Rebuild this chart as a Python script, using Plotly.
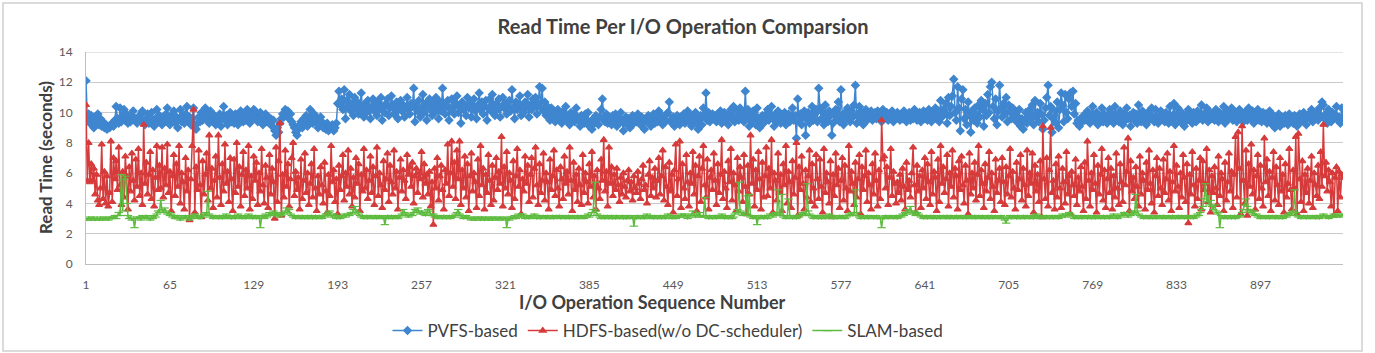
import plotly.graph_objects as go

# ---------------- data ----------------
TITLE = "Read Time Per I/O Operation Comparsion"
X_TITLE = "I/O Operation Sequence Number"
Y_TITLE = "Read Time (seconds)"
SERIES_NAMES = ["PVFS-based", "HDFS-based(w/o DC-scheduler)", "SLAM-based"]
X_TICKS = [1, 65, 129, 193, 257, 321, 385, 449, 513, 577, 641, 705, 769, 833, 897]
N_OPS = 960

pvfs = [
    12.1, 9.6, 9.9, 9.3, 9.8, 9.5, 9.0, 9.7, 9.4, 9.9, 9.2, 9.6, 9.1, 9.4, 9.0, 9.2, 8.9, 9.1, 9.0, 9.2,
    9.3, 9.1, 9.5, 10.4, 9.6, 9.3, 10.3, 9.4, 9.8, 10.2, 9.5, 9.9, 9.3, 9.7, 9.4, 9.8, 10.1, 9.5, 9.6, 9.3,
    9.7, 9.5, 9.9, 10.1, 9.4, 9.2, 9.6, 9.9, 9.3, 9.7, 10.0, 9.5, 9.1, 9.6, 10.2, 9.4, 9.8, 9.5, 9.2, 9.7,
    9.4, 9.9, 10.3, 9.6, 9.2, 9.8, 9.5, 10.1, 9.3, 9.7, 9.0, 9.6, 10.2, 9.4, 9.8, 9.3, 9.9, 10.4, 9.5, 9.7,
    9.2, 9.6, 10.3, 9.0, 8.9, 9.3, 9.7, 9.4, 10.0, 9.5, 9.8, 10.3, 9.6, 9.9, 9.3, 10.1, 9.7, 9.4, 9.8, 9.2,
    9.6, 9.3, 9.9, 9.1, 9.7, 10.4, 9.5, 9.8, 9.2, 9.6, 10.0, 9.4, 9.7, 9.3, 9.9, 9.5, 9.2, 9.8, 10.1, 9.6,
    9.4, 9.8, 9.5, 10.2, 9.7, 9.3, 9.9, 9.6, 10.2, 10.1, 9.8, 9.4, 9.7, 10.0, 9.5, 9.2, 9.6, 9.9, 9.4, 9.7,
    9.3, 9.6, 9.1, 9.5, 8.8, 8.5, 9.0, 8.7, 9.3, 9.6, 9.9, 9.7, 10.2, 9.8, 10.1, 9.6, 9.9, 9.4, 9.2, 9.0,
    8.7, 8.5, 8.9, 9.2, 9.4, 9.0, 9.6, 9.3, 9.8, 9.1, 9.5, 10.2, 9.7, 9.3, 9.9, 9.4, 9.6, 9.0, 9.3, 9.7,
    9.4, 9.0, 9.2, 8.9, 9.3, 8.8, 9.1, 9.0, 9.2, 8.8, 9.0, 9.3, 10.6, 11.4, 10.5, 10.9, 10.2, 11.5, 9.6, 10.8,
    10.4, 11.2, 10.1, 10.6, 9.8, 11.0, 10.3, 10.7, 9.9, 10.5, 11.3, 10.2, 9.7, 10.6, 10.0, 10.8, 10.3, 9.6, 10.4, 10.9,
    10.1, 10.5, 9.8, 10.7, 10.2, 11.0, 9.5, 10.4, 10.0, 10.6, 10.9, 9.8, 10.3, 11.1, 10.5, 9.9, 10.2, 10.7, 9.6, 10.4,
    10.8, 10.1, 10.5, 9.7, 10.3, 11.0, 10.2, 9.9, 10.6, 10.4, 11.6, 9.4, 10.5, 10.1, 10.8, 9.7, 10.3, 11.2, 10.0, 10.6,
    9.5, 10.4, 10.9, 10.2, 9.8, 10.6, 10.0, 11.0, 10.3, 9.6, 10.7, 10.1, 11.6, 10.4, 9.9, 10.5, 10.8, 9.5, 10.2, 10.9,
    10.3, 9.9, 10.6, 11.1, 10.0, 10.4, 9.3, 10.7, 10.2, 10.5, 9.8, 11.0, 10.3, 10.6, 9.7, 10.4, 10.9, 10.1, 9.6, 10.5,
    11.3, 10.2, 10.7, 9.9, 10.4, 10.8, 9.5, 10.3, 10.9, 10.1, 11.2, 10.5, 9.8, 10.6, 10.2, 10.9, 9.7, 10.4, 11.0, 10.3,
    10.6, 9.9, 10.4, 10.8, 10.1, 11.5, 10.3, 9.6, 10.7, 10.2, 10.5, 11.1, 9.8, 10.4, 10.0, 10.7, 10.3, 11.2, 9.7, 10.5,
    10.2, 10.9, 10.4, 11.0, 9.9, 10.6, 11.7, 10.3, 11.6, 10.1, 10.7, 9.8, 10.4, 10.0, 9.5, 10.3, 9.7, 10.1, 9.4, 9.9,
    10.2, 9.6, 9.9, 9.3, 10.1, 9.7, 10.4, 9.5, 9.8, 9.2, 10.0, 9.6, 9.9, 9.4, 10.3, 9.7, 9.5, 9.1, 9.8, 9.6,
    9.3, 9.9, 9.5, 10.0, 9.1, 9.4, 8.9, 9.6, 9.3, 9.8, 9.5, 9.2, 9.7, 10.2, 10.9, 9.6, 9.4, 9.9, 9.3, 9.7,
    9.5, 9.2, 9.8, 9.4, 9.9, 9.1, 9.6, 9.3, 10.0, 9.5, 8.8, 9.4, 9.7, 9.2, 9.6, 9.0, 9.5, 9.8, 9.3, 9.7,
    9.4, 9.9, 9.5, 9.2, 9.7, 9.3, 8.9, 9.6, 9.4, 9.8, 9.5, 9.1, 9.6, 9.9, 9.3, 9.7, 9.4, 10.1, 9.5, 9.8,
    9.2, 9.6, 9.4, 9.9, 10.0, 10.7, 9.5, 9.3, 9.7, 9.1, 9.6, 9.8, 9.4, 9.2, 9.7, 9.5, 9.9, 9.3, 9.6, 10.1,
    9.4, 9.8, 9.1, 9.7, 9.5, 10.0, 9.3, 8.9, 9.6, 9.8, 9.2, 10.3, 9.7, 11.3, 9.5, 10.0, 9.4, 9.8, 9.9, 9.6,
    9.8, 9.4, 9.9, 9.6, 10.1, 9.3, 9.7, 10.0, 9.5, 9.8, 9.2, 9.9, 10.2, 9.6, 10.4, 9.4, 9.7, 10.1, 9.5, 10.3,
    9.6, 10.0, 9.4, 11.4, 9.7, 10.2, 9.1, 9.9, 9.4, 10.1, 9.8, 9.2, 10.3, 9.6, 9.0, 9.5, 9.8, 9.3, 9.7, 9.9,
    10.2, 9.5, 9.8, 10.4, 9.6, 9.1, 9.9, 9.4, 10.1, 9.7, 9.3, 9.8, 9.5, 10.0, 9.2, 9.6, 9.9, 9.4, 9.7, 10.3,
    9.5, 9.8, 8.3, 10.9, 9.4, 9.9, 9.2, 9.7, 10.1, 8.5, 9.6, 10.0, 9.3, 9.8, 10.4, 9.5, 9.9, 10.2, 9.4, 11.6,
    10.3, 9.6, 10.0, 9.2, 10.5, 9.7, 9.4, 10.1, 9.8, 8.5, 9.3, 9.9, 10.2, 9.6, 10.7, 9.4, 11.5, 9.8, 9.2, 10.0,
    9.6, 10.3, 9.9, 9.4, 10.1, 9.7, 10.5, 11.8, 9.3, 9.9, 10.4, 9.6, 10.0, 9.2, 9.8, 10.2, 9.5, 9.9, 9.7, 10.1,
    9.5, 9.8, 10.0, 9.6, 10.1, 9.7, 9.9, 9.4, 10.2, 9.6, 9.8, 10.0, 9.5, 9.9, 9.7, 10.1, 9.4, 9.8, 9.6, 10.0,
    9.7, 9.5, 9.9, 9.6, 10.1, 9.8, 9.4, 9.7, 10.0, 9.5, 9.9, 9.6, 10.2, 9.8, 9.5, 9.7, 10.0, 9.4, 9.8, 10.1,
    9.6, 9.9, 9.5, 10.2, 9.7, 9.4, 10.0, 9.8, 10.3, 9.6, 10.1, 9.4, 10.8, 9.7, 10.2, 9.9, 10.6, 9.3, 11.0, 9.8,
    10.4, 11.1, 12.2, 10.0, 9.5, 11.7, 10.3, 8.8, 10.9, 11.5, 9.6, 10.2, 9.2, 10.7, 9.8, 8.7, 10.1, 9.5, 10.3, 9.9,
    9.3, 10.5, 9.7, 10.8, 10.2, 9.1, 10.6, 9.8, 11.2, 10.0, 11.7, 12.0, 10.4, 9.6, 10.9, 9.2, 10.1, 11.8, 10.3, 9.7,
    10.6, 9.9, 11.0, 9.4, 10.5, 10.1, 9.6, 10.3, 9.8, 10.0, 9.4, 9.7, 10.2, 9.1, 9.6, 8.9, 9.5, 10.0, 9.3, 9.8,
    10.2, 9.6, 10.5, 9.2, 10.8, 9.7, 10.0, 9.4, 10.6, 9.9, 8.9, 9.5, 10.3, 11.0, 11.8, 9.8, 10.4, 8.7, 9.6, 10.1,
    9.3, 10.7, 9.0, 10.2, 11.3, 10.5, 9.4, 11.2, 10.0, 9.6, 10.9, 11.3, 10.4, 11.4, 9.9, 10.6, 9.3, 9.5, 9.1, 9.6,
    9.4, 9.8, 9.5, 9.9, 10.1, 9.6, 9.3, 9.8, 10.4, 9.5, 9.7, 10.0, 9.2, 9.8, 9.6, 10.3, 9.4, 9.9, 9.7, 9.3,
    9.8, 10.2, 9.5, 9.9, 9.3, 10.4, 9.6, 9.8, 9.4, 10.1, 9.7, 9.2, 9.9, 9.5, 10.3, 9.6, 9.8, 9.1, 9.7, 10.0,
    9.5, 9.9, 9.3, 10.5, 9.7, 9.4, 10.1, 9.6, 9.8, 9.2, 10.0, 9.5, 9.9, 10.3, 9.6, 9.4, 10.2, 9.7, 9.3, 9.8,
    10.1, 9.6, 9.9, 9.4, 10.0, 9.7, 9.3, 10.4, 9.5, 9.8, 10.6, 9.2, 9.9, 10.3, 9.6, 9.4, 10.0, 9.7, 9.1, 9.8,
    9.5, 10.2, 9.6, 9.9, 9.3, 10.0, 9.7, 9.4, 10.1, 9.6, 9.8, 10.5, 9.5, 9.9, 9.7, 10.3, 9.4, 9.8, 10.0, 9.6,
    9.9, 9.5, 10.2, 9.7, 9.4, 10.0, 9.6, 9.8, 10.4, 9.3, 9.9, 10.1, 9.6, 9.8, 10.3, 9.5, 9.7, 10.0, 9.4, 9.9,
    10.2, 9.6, 9.9, 9.4, 10.0, 9.7, 9.5, 10.3, 9.8, 9.6, 10.1, 9.3, 9.9, 9.7, 10.2, 9.5, 9.8, 9.4, 10.0, 9.6,
    9.9, 9.3, 9.7, 10.1, 9.5, 9.2, 9.8, 9.0, 9.6, 9.4, 9.9, 9.1, 9.7, 9.5, 9.3, 9.8, 9.6, 9.2, 9.9, 9.4,
    9.7, 9.3, 9.8, 9.5, 9.1, 9.6, 9.9, 9.4, 9.8, 10.0, 9.5, 9.2, 9.7, 9.9, 9.6, 10.2, 9.4, 9.8, 9.6, 10.0,
    9.5, 10.3, 9.8, 10.7, 10.5, 9.6, 9.9, 9.3, 10.2, 9.7, 9.4, 10.0, 9.6, 9.8, 10.4, 9.5, 9.7, 9.3, 10.3, 9.6,
]

hdfs = [
    10.5, 5.5, 8.0, 5.4, 6.6, 5.5, 6.3, 4.6, 5.9, 4.2, 3.9, 5.0, 7.9, 4.3, 6.1, 4.0, 5.8, 3.8, 4.7, 8.1,
    4.1, 7.0, 5.6, 6.8, 4.9, 7.7, 5.2, 3.9, 6.1, 4.4, 7.1, 5.8, 3.6, 6.4, 4.8, 7.3, 5.5, 4.2, 6.9, 5.1,
    7.6, 4.5, 6.0, 3.9, 9.2, 5.3, 6.7, 4.6, 5.9, 7.4, 4.3, 6.2, 3.8, 5.7, 7.8, 4.9, 6.5, 5.0, 7.7, 4.4,
    6.3, 5.2, 7.9, 4.7, 6.1, 3.5, 5.8, 7.2, 4.5, 6.6, 5.1, 7.8, 4.0, 6.0, 5.4, 3.6, 7.0, 4.8, 6.2, 2.9,
    5.6, 7.8, 10.2, 3.4, 6.4, 4.9, 7.5, 5.2, 3.1, 6.8, 4.6, 5.9, 7.3, 4.2, 8.5, 5.0, 6.3, 3.7, 5.5, 7.1,
    4.4, 8.5, 5.7, 3.9, 6.6, 4.8, 7.9, 5.3, 6.1, 4.1, 7.0, 5.6, 3.5, 6.9, 4.7, 8.0, 5.1, 6.4, 3.8, 5.9,
    7.4, 4.5, 6.2, 5.0, 7.8, 3.6, 5.8, 4.3, 7.1, 5.5, 6.7, 3.9, 6.0, 4.8, 7.6, 5.2, 4.0, 6.5, 5.7, 3.7,
    7.2, 4.6, 6.3, 5.4, 3.0, 7.7, 4.1, 6.8, 9.3, 3.2, 5.9, 4.4, 7.5, 5.1, 6.6, 3.8, 5.6, 7.0, 8.0, 4.5,
    6.1, 4.9, 5.7, 3.6, 6.9, 4.3, 5.5, 7.3, 4.7, 6.0, 3.9, 5.3, 6.6, 4.4, 7.6, 5.0, 3.5, 5.8, 4.6, 6.4,
    5.2, 4.0, 6.7, 4.8, 3.4, 5.9, 4.5, 7.8, 5.4, 6.2, 4.1, 5.6, 3.3, 6.5, 4.9, 5.8, 7.2, 4.2, 6.0, 5.1,
    7.5, 4.6, 6.3, 3.8, 5.7, 4.4, 7.0, 5.3, 6.6, 3.5, 5.9, 4.8, 7.6, 5.0, 6.2, 4.3, 5.5, 7.1, 4.7, 6.4,
    3.9, 5.8, 7.7, 4.5, 6.0, 5.2, 3.7, 6.8, 4.9, 5.6, 7.3, 4.1, 6.5, 5.4, 4.6, 7.5, 5.0, 6.1, 3.6, 5.7,
    6.9, 4.8, 6.2, 5.5, 4.3, 7.2, 5.9, 6.4, 5.1, 6.7, 4.0, 5.8, 6.3, 4.7, 6.0, 5.6, 7.4, 4.4, 6.6, 5.3,
    5.9, 4.6, 6.1, 3.8, 5.4, 2.6, 6.3, 5.0, 7.0, 4.2, 5.8, 6.5, 4.9, 3.6, 6.2, 5.3, 7.9, 4.5, 6.0, 8.1,
    5.1, 6.7, 4.3, 7.5, 5.6, 8.1, 3.9, 6.2, 5.0, 7.1, 4.4, 6.6, 3.5, 5.8, 7.3, 4.8, 6.0, 5.4, 3.7, 6.9,
    4.5, 7.8, 5.2, 6.3, 3.6, 5.9, 4.7, 7.2, 5.5, 3.9, 6.5, 4.2, 5.7, 7.0, 4.9, 6.1, 5.3, 8.4, 3.8, 6.4,
    5.0, 7.4, 4.6, 6.0, 5.5, 3.7, 6.8, 4.3, 5.8, 7.6, 5.1, 6.2, 3.3, 5.6, 4.8, 7.1, 5.3, 6.5, 4.1, 5.9,
    7.0, 4.4, 6.3, 7.7, 5.2, 3.9, 6.6, 4.7, 5.5, 7.3, 4.2, 6.0, 5.4, 3.6, 6.9, 4.9, 5.8, 7.5, 4.5, 6.2,
    5.0, 3.8, 6.4, 5.6, 4.3, 7.1, 5.3, 6.1, 4.6, 7.7, 5.5, 3.5, 6.7, 4.9, 5.9, 4.1, 6.3, 5.2, 3.9, 7.2,
    4.7, 6.0, 5.4, 4.0, 6.6, 5.1, 7.4, 4.4, 5.8, 3.6, 6.2, 5.0, 4.3, 6.9, 5.5, 8.2, 4.8, 6.1, 3.8, 7.7,
    5.3, 6.4, 4.5, 5.9, 4.9, 6.3, 5.2, 4.1, 5.7, 4.6, 6.0, 5.1, 4.4, 5.5, 6.2, 4.8, 5.4, 4.2, 5.8, 5.0,
    4.7, 6.1, 5.3, 4.3, 5.6, 6.5, 4.9, 5.2, 4.0, 5.9, 6.8, 4.5, 5.7, 5.0, 6.3, 4.4, 5.5, 7.0, 4.6, 5.8,
    7.5, 4.2, 6.4, 5.1, 3.9, 6.7, 4.8, 5.9, 3.4, 6.2, 7.9, 4.5, 5.6, 8.1, 3.7, 6.6, 5.0, 4.3, 7.2, 5.4,
    3.8, 6.0, 5.3, 7.4, 4.6, 6.5, 3.5, 5.8, 7.1, 4.1, 6.3, 7.8, 5.2, 4.4, 6.9, 3.6, 5.7, 6.2, 4.9, 7.3,
    5.5, 3.9, 6.6, 4.7, 5.9, 8.2, 4.3, 6.1, 5.0, 3.7, 6.8, 5.4, 7.6, 4.2, 6.0, 5.2, 3.5, 7.0, 4.8, 6.4,
    5.7, 4.1, 7.2, 5.1, 3.3, 6.5, 4.6, 8.5, 5.3, 6.9, 3.8, 6.2, 4.9, 7.4, 5.6, 3.6, 6.7, 4.4, 5.8, 7.7,
    4.5, 6.3, 5.0, 8.2, 3.4, 6.0, 5.5, 4.2, 7.3, 4.7, 5.9, 3.5, 6.6, 5.2, 7.8, 4.0, 6.1, 5.4, 3.7, 6.8,
    4.6, 5.7, 8.0, 3.2, 6.4, 4.9, 7.1, 5.3, 3.6, 6.2, 4.4, 5.8, 7.5, 4.1, 6.6, 5.0, 3.8, 7.2, 5.6, 4.3,
    6.9, 5.1, 3.4, 7.6, 4.7, 6.0, 5.4, 4.0, 6.8, 3.1, 5.9, 4.5, 7.3, 5.2, 6.3, 3.7, 5.5, 7.0, 4.2, 6.5,
    5.0, 3.5, 7.8, 4.8, 6.1, 5.3, 3.9, 6.7, 4.4, 5.6, 7.2, 3.3, 6.4, 4.9, 5.8, 7.5, 4.1, 6.0, 5.2, 3.6,
    6.6, 4.6, 7.3, 5.5, 3.8, 6.2, 4.3, 9.5, 6.9, 7.1, 5.0, 6.4, 3.9, 5.7, 7.6, 4.5, 6.1, 5.3, 4.0, 5.4,
    4.7, 5.9, 4.2, 6.3, 5.1, 3.6, 6.7, 4.9, 5.5, 4.4, 6.0, 7.7, 5.2, 3.4, 6.5, 4.8, 5.8, 3.7, 6.2, 5.0,
    7.0, 4.3, 6.6, 5.4, 3.9, 7.4, 4.6, 6.1, 5.7, 3.5, 6.9, 4.1, 7.8, 5.3, 6.4, 4.7, 5.6, 7.2, 3.8, 6.0,
    5.1, 7.5, 4.4, 6.3, 5.8, 3.6, 6.8, 4.9, 7.1, 5.2, 4.0, 6.5, 5.5, 3.3, 7.3, 4.6, 6.0, 5.0, 6.7, 4.2,
    5.9, 7.8, 4.5, 6.2, 5.3, 3.7, 6.6, 4.8, 5.7, 7.4, 4.3, 6.0, 5.1, 3.5, 6.9, 4.7, 5.5, 6.3, 4.1, 7.0,
    5.4, 3.9, 6.4, 4.6, 5.8, 7.6, 4.4, 6.1, 5.0, 3.6, 6.7, 4.9, 5.6, 7.2, 4.2, 6.3, 5.2, 3.8, 7.5, 4.5,
    6.0, 5.3, 7.3, 3.4, 6.5, 4.8, 5.9, 4.1, 6.8, 3.1, 9.1, 5.6, 4.3, 7.0, 3.8, 6.2, 9.0, 4.7, 5.5, 3.6,
    6.6, 4.4, 7.1, 5.0, 3.7, 6.3, 5.4, 4.0, 7.4, 4.6, 5.8, 3.3, 6.1, 5.2, 4.5, 6.9, 3.9, 5.7, 4.8, 6.4,
    5.1, 3.5, 6.7, 4.3, 8.1, 5.5, 3.8, 6.0, 4.9, 7.2, 5.3, 3.4, 6.5, 4.6, 5.9, 7.6, 4.2, 6.2, 3.7, 5.6,
    7.0, 4.7, 6.3, 3.6, 5.8, 4.4, 7.3, 5.0, 3.9, 6.6, 5.4, 4.1, 7.7, 5.2, 6.1, 8.3, 3.5, 6.8, 4.8, 5.7,
    4.3, 6.4, 5.1, 3.8, 7.1, 4.6, 6.0, 5.5, 3.6, 6.7, 4.9, 7.5, 5.3, 4.0, 6.2, 3.4, 5.8, 7.0, 4.5, 6.3,
    5.0, 3.9, 6.9, 4.7, 5.6, 7.3, 4.2, 6.1, 3.5, 5.4, 7.8, 4.8, 6.5, 5.1, 3.7, 6.0, 4.4, 7.2, 5.7, 4.1,
    6.6, 2.7, 5.9, 4.6, 7.4, 5.2, 3.8, 6.3, 4.3, 5.5, 7.0, 3.6, 6.8, 4.9, 5.3, 7.6, 4.1, 6.2, 3.4, 5.8,
    4.7, 6.4, 5.0, 3.9, 7.1, 4.5, 6.0, 5.6, 3.5, 6.7, 4.2, 5.4, 7.3, 4.8, 6.1, 3.7, 5.9, 8.4, 4.4, 8.7,
    6.3, 3.3, 9.1, 5.5, 4.0, 7.5, 3.2, 6.6, 5.1, 7.9, 4.6, 6.2, 3.6, 5.8, 7.2, 4.3, 6.5, 5.0, 3.8, 8.3,
    5.4, 6.9, 4.5, 6.1, 3.5, 5.7, 7.4, 4.2, 6.4, 5.2, 3.9, 7.0, 4.8, 5.9, 3.4, 6.6, 4.4, 5.3, 7.6, 4.9,
    3.6, 6.2, 5.0, 8.4, 3.3, 8.6, 5.6, 4.1, 6.8, 3.5, 5.9, 4.7, 6.3, 4.0, 5.5, 7.1, 3.7, 6.0, 5.2, 4.5,
    6.5, 4.3, 7.4, 5.1, 9.2, 5.8, 6.7, 4.8, 6.2, 5.4, 3.8, 6.0, 3.2, 5.7, 6.4, 3.5, 6.1, 4.4, 5.9, 5.7,
]

slam = [
    3.0, 2.9, 3.1, 3.0, 2.9, 3.0, 3.1, 2.9, 3.0, 3.0, 2.9, 3.1, 3.0, 2.9, 3.0, 3.1, 3.0, 2.9, 3.0, 3.1,
    3.0, 3.1, 3.2, 3.0, 3.2, 3.4, 3.2, 5.9, 3.5, 5.6, 5.8, 4.0, 3.2, 3.0, 3.1, 2.9, 3.0, 2.4, 3.0, 3.1,
    3.0, 3.1, 2.9, 3.2, 3.1, 3.0, 3.2, 3.1, 3.0, 2.9, 3.1, 3.0, 3.2, 3.1, 3.3, 3.5, 3.4, 4.2, 3.6, 3.4,
    3.7, 3.5, 3.3, 3.4, 3.2, 3.3, 3.1, 3.2, 3.0, 3.1, 3.2, 3.0, 2.9, 3.1, 3.0, 3.1, 3.2, 3.0, 3.1, 2.9,
    3.0, 3.2, 3.1, 3.3, 3.1, 3.2, 3.0, 3.1, 3.2, 3.1, 3.3, 3.4, 3.2, 4.8, 3.3, 3.1, 3.2, 3.0, 3.1, 3.2,
    3.1, 3.0, 3.2, 3.1, 3.0, 3.2, 3.1, 3.3, 3.0, 3.1, 3.2, 3.0, 3.1, 3.2, 3.0, 3.1, 3.3, 3.1, 3.2, 3.0,
    3.1, 3.2, 3.0, 3.1, 3.3, 3.1, 3.2, 3.0, 3.1, 3.2, 3.0, 3.1, 3.2, 2.4, 3.1, 3.2, 3.0, 3.3, 3.1, 3.2,
    3.4, 3.2, 3.3, 3.5, 3.3, 3.2, 3.4, 3.1, 3.3, 3.2, 3.4, 3.3, 3.5, 3.7, 3.4, 3.6, 3.3, 3.2, 3.1, 3.2,
    3.0, 3.1, 3.2, 3.1, 3.0, 3.2, 3.1, 3.0, 3.1, 3.2, 3.0, 3.1, 3.2, 3.0, 3.1, 3.2, 3.0, 3.1, 3.2, 3.1,
    3.0, 3.2, 3.1, 3.3, 3.2, 3.4, 3.5, 3.2, 3.1, 3.3, 3.2, 3.0, 3.1, 3.2, 3.0, 3.1, 3.2, 3.3, 3.1, 3.2,
    3.3, 3.2, 3.4, 3.3, 3.6, 3.8, 3.5, 3.4, 3.3, 3.2, 3.1, 3.2, 3.0, 3.1, 3.2, 3.0, 3.1, 3.2, 3.1, 3.0,
    3.1, 3.2, 3.0, 3.1, 3.2, 3.1, 3.0, 3.1, 2.6, 3.1, 3.2, 3.0, 3.1, 3.2, 3.0, 3.1, 3.2, 3.1, 3.0, 3.1,
    3.2, 3.3, 3.6, 3.4, 3.3, 3.2, 3.1, 3.2, 3.3, 3.2, 3.4, 3.6, 3.5, 3.7, 3.4, 3.3, 3.5, 3.4, 3.3, 3.2,
    3.4, 3.6, 3.5, 3.3, 3.2, 3.3, 3.1, 3.2, 3.0, 3.1, 3.2, 3.1, 3.0, 3.2, 3.1, 3.0, 3.1, 3.2, 3.0, 3.1,
    3.2, 3.1, 3.3, 3.4, 3.6, 3.3, 3.2, 3.1, 3.0, 3.1, 3.2, 3.0, 3.1, 3.0, 2.9, 3.0, 3.1, 2.9, 3.0, 3.1,
    3.0, 2.9, 3.1, 3.0, 2.9, 3.1, 3.0, 2.9, 3.0, 3.1, 2.9, 3.0, 3.1, 3.0, 2.9, 3.0, 3.1, 3.0, 2.9, 3.0,
    3.1, 2.4, 3.0, 2.9, 3.1, 3.0, 3.1, 3.2, 3.0, 3.1, 3.3, 3.2, 3.1, 3.3, 3.2, 3.0, 3.1, 3.2, 3.0, 3.1,
    3.2, 3.1, 3.3, 3.2, 3.0, 3.1, 3.2, 3.0, 3.1, 3.2, 3.1, 3.0, 3.2, 3.1, 3.0, 3.1, 3.2, 3.0, 3.1, 3.2,
    3.1, 3.2, 3.0, 3.1, 3.2, 3.1, 3.0, 3.1, 3.2, 3.0, 3.1, 3.2, 3.1, 3.0, 3.1, 3.2, 3.0, 3.1, 3.2, 3.1,
    3.0, 3.1, 3.2, 3.3, 3.1, 3.2, 3.4, 3.6, 5.4, 3.5, 3.3, 3.2, 3.1, 3.0, 3.1, 3.2, 3.0, 3.1, 3.2, 3.0,
    3.1, 3.2, 3.0, 3.1, 3.0, 3.2, 3.1, 3.0, 3.1, 3.2, 3.0, 3.1, 3.0, 3.2, 3.1, 3.0, 3.1, 3.2, 2.5, 3.1,
    3.0, 3.2, 3.1, 3.0, 3.1, 3.2, 3.0, 3.1, 3.3, 3.1, 3.0, 3.2, 3.1, 3.0, 3.2, 3.1, 3.0, 3.1, 3.2, 3.0,
    3.1, 3.2, 3.0, 3.1, 3.3, 3.2, 3.1, 3.0, 3.2, 3.1, 3.0, 3.1, 3.2, 3.1, 3.3, 3.2, 3.1, 3.3, 3.2, 3.0,
    3.1, 3.2, 3.3, 3.5, 3.2, 3.1, 3.3, 3.2, 3.4, 3.1, 3.2, 3.1, 4.4, 3.2, 3.1, 3.0, 3.2, 3.1, 3.0, 3.1,
    3.2, 3.0, 3.1, 3.2, 3.1, 3.3, 3.1, 3.0, 3.2, 3.1, 3.0, 3.1, 3.2, 3.0, 3.1, 3.3, 3.4, 3.6, 5.4, 3.5,
    3.3, 3.2, 3.4, 3.3, 4.5, 3.2, 4.6, 3.1, 3.2, 3.0, 3.1, 3.2, 2.6, 3.1, 3.0, 3.2, 3.1, 3.0, 3.2, 3.1,
    3.0, 3.2, 3.3, 3.2, 3.1, 3.3, 3.4, 3.2, 4.9, 3.3, 3.2, 4.6, 3.1, 3.2, 3.0, 3.1, 4.3, 3.2, 3.1, 3.0,
    3.2, 3.1, 3.0, 3.2, 3.1, 3.3, 3.2, 3.4, 3.3, 3.2, 5.3, 3.5, 3.3, 3.2, 3.1, 3.0, 3.2, 3.1, 3.2, 3.0,
    3.1, 3.0, 3.2, 3.1, 3.0, 3.2, 3.1, 3.3, 3.2, 3.1, 3.0, 3.2, 3.1, 3.0, 3.1, 3.2, 3.0, 3.2, 3.1, 3.0,
    3.1, 3.2, 3.3, 3.2, 3.4, 3.2, 3.3, 4.9, 3.4, 3.2, 3.1, 3.0, 3.2, 3.1, 3.0, 3.1, 3.2, 3.0, 3.1, 3.2,
    3.1, 3.0, 3.1, 3.2, 3.0, 3.1, 3.0, 2.4, 3.1, 3.0, 3.2, 3.1, 3.0, 3.1, 3.2, 3.1, 3.0, 3.1, 3.2, 3.0,
    3.1, 3.2, 3.1, 3.3, 3.2, 3.4, 3.3, 3.6, 3.5, 3.8, 3.4, 3.3, 3.5, 3.2, 3.4, 3.3, 3.2, 3.1, 3.2, 3.0,
    3.1, 3.2, 3.0, 3.1, 3.2, 3.1, 3.0, 3.2, 3.1, 3.0, 3.1, 3.2, 3.0, 3.1, 3.2, 3.1, 3.0, 3.2, 3.1, 3.0,
    3.2, 3.1, 3.0, 3.1, 3.2, 3.0, 3.1, 3.2, 3.1, 3.0, 3.1, 3.2, 3.0, 3.1, 3.2, 3.1, 3.0, 3.1, 3.2, 3.0,
    3.1, 3.2, 3.1, 3.0, 3.2, 3.1, 3.0, 3.1, 3.2, 3.0, 3.1, 3.2, 3.0, 3.1, 3.2, 3.1, 3.0, 3.1, 3.2, 3.0,
    3.1, 2.9, 2.7, 3.0, 3.1, 3.2, 3.0, 3.1, 3.2, 3.1, 3.0, 3.2, 3.1, 3.0, 3.1, 3.2, 3.0, 3.1, 3.2, 3.1,
    3.0, 3.1, 3.2, 3.0, 3.1, 3.3, 3.1, 3.2, 3.0, 3.1, 3.2, 3.1, 3.0, 3.2, 3.1, 3.0, 3.1, 3.2, 3.0, 3.1,
    3.2, 3.1, 3.0, 3.2, 3.1, 3.3, 3.2, 3.1, 3.3, 3.2, 3.4, 3.3, 3.2, 3.1, 3.0, 3.2, 3.1, 3.0, 3.1, 3.2,
    3.0, 3.1, 3.2, 3.1, 3.0, 3.2, 3.1, 3.0, 3.1, 3.2, 3.0, 3.1, 3.2, 3.1, 3.0, 3.1, 3.2, 3.0, 3.1, 3.2,
    3.1, 3.0, 3.2, 3.1, 3.3, 3.2, 3.1, 3.0, 3.2, 3.1, 3.3, 3.2, 3.4, 3.3, 3.2, 3.1, 3.3, 3.2, 3.5, 3.3,
    3.4, 4.6, 3.5, 3.3, 3.2, 3.1, 3.2, 3.0, 3.1, 3.2, 3.1, 3.0, 3.2, 3.1, 3.0, 3.1, 3.2, 3.0, 3.1, 3.2,
    3.1, 3.0, 3.2, 3.1, 3.0, 3.1, 3.2, 3.1, 3.0, 3.2, 3.1, 3.0, 3.1, 3.2, 3.0, 3.1, 3.2, 3.1, 3.0, 3.1,
    3.2, 3.0, 3.1, 3.2, 3.1, 3.0, 3.2, 3.1, 3.3, 3.2, 3.4, 3.6, 3.8, 4.3, 5.3, 4.1, 4.5, 3.9, 4.2, 3.8,
    3.6, 3.9, 3.5, 3.3, 3.4, 2.4, 3.2, 3.1, 3.0, 3.2, 3.1, 3.0, 3.1, 3.2, 3.0, 3.1, 3.2, 3.0, 3.1, 3.2,
    3.1, 3.2, 3.4, 3.6, 3.9, 4.3, 3.8, 3.5, 3.6, 3.4, 3.3, 3.5, 3.2, 3.3, 3.1, 3.2, 3.0, 3.1, 3.2, 3.1,
    3.0, 3.1, 3.2, 3.0, 3.1, 3.2, 3.1, 3.0, 3.2, 3.1, 3.0, 3.1, 3.2, 3.0, 3.1, 3.2, 3.1, 3.3, 3.2, 3.4,
    3.3, 3.5, 4.9, 3.4, 3.2, 3.1, 3.2, 3.0, 3.1, 3.2, 3.1, 3.0, 3.2, 3.1, 3.0, 3.1, 3.2, 3.1, 3.0, 3.2,
    3.1, 3.0, 3.2, 3.1, 3.3, 3.2, 3.1, 3.2, 3.0, 3.1, 3.2, 3.1, 3.3, 3.2, 3.1, 3.3, 3.2, 3.1, 3.2, 3.3,
]

COLORS = ["#3F86CF", "#D63B3B", "#5DBB3F"]
SYMBOLS = ["diamond", "triangle-up", "line-ew-open"]
MARKER_SIZES = [6, 6, 6]

# ---------------- figure ----------------
W, H = 1375, 353
L, R, T, B = 86, 32, 52, 89  # plot area: x 86..1343, y 52..264

fig = go.Figure()
for name, ys, col, sym, ms in zip(SERIES_NAMES, [pvfs, hdfs, slam], COLORS, SYMBOLS, MARKER_SIZES):
    xs = list(range(1, len(ys) + 1))
    fig.add_trace(go.Scatter(
        x=xs, y=ys, name=name, mode="lines+markers",
        line=dict(color=col, width=1.5),
        marker=dict(symbol=sym, size=ms, color=col, line=dict(color=col, width=1.2)),
    ))

pw, ph = W - L - R, H - T - B
def px_x(px):
    return (px - L) / pw
def px_y(py):
    return (H - B - py) / ph

font_family = "Lato, 'Open Sans', sans-serif"

fig.update_layout(
    width=W, height=H,
    margin=dict(l=L, r=R, t=T, b=B),
    paper_bgcolor="white", plot_bgcolor="white",
    font=dict(family=font_family, color="#404040"),
    title=dict(text="<b>" + TITLE + "</b>", x=683 / W, xref="container", xanchor="center",
               y=1 - 27 / H, yref="container", yanchor="middle",
               font=dict(size=20, color="#404040", family=font_family)),
    showlegend=True,
    legend=dict(orientation="h", x=668 / W, xref="container", xanchor="center",
                y=1 - 331 / H, yref="container", yanchor="middle",
                font=dict(size=17, color="#404040", family=font_family),
                bgcolor="rgba(0,0,0,0)", traceorder="normal"),
    xaxis=dict(range=[1, N_OPS], tickmode="array", tickvals=X_TICKS,
               ticktext=[str(v) for v in X_TICKS],
               showgrid=False, zeroline=False, showline=True, linecolor="#bfbfbf", linewidth=1,
               ticks="outside", ticklen=10, tickcolor="rgba(0,0,0,0)",
               tickfont=dict(size=12, color="#595959", family=font_family)),
    yaxis=dict(range=[0, 14], dtick=2, showgrid=True, gridcolor="#c9c9c9", gridwidth=1,
               zeroline=False, showline=True, linecolor="#bfbfbf", linewidth=1,
               ticks="outside", ticklen=10, tickcolor="rgba(0,0,0,0)",
               tickfont=dict(size=12, color="#595959", family=font_family)),
    annotations=[
        dict(text="<b>" + X_TITLE + "</b>", xref="paper", yref="paper",
             x=px_x(652), y=px_y(302), xanchor="center", yanchor="middle", showarrow=False,
             font=dict(size=18, color="#404040", family=font_family)),
        dict(text="<b>" + Y_TITLE + "</b>", xref="paper", yref="paper", textangle=-90,
             x=px_x(45), y=px_y(158), xanchor="center", yanchor="middle", showarrow=False,
             font=dict(size=17, color="#404040", family=font_family)),
    ],
    shapes=[
        dict(type="rect", xref="paper", yref="paper",
             x0=px_x(3), x1=px_x(1362), y0=px_y(351), y1=px_y(3),
             line=dict(color="#d0d0d0", width=1.5), fillcolor="rgba(0,0,0,0)", layer="below"),
        dict(type="line", xref="paper", yref="y", x0=0, x1=1, y0=14, y1=14,
             line=dict(color="#c9c9c9", width=1)),
    ],
)

print(len(pvfs), len(hdfs), len(slam))
fig.write_html("out.html")
